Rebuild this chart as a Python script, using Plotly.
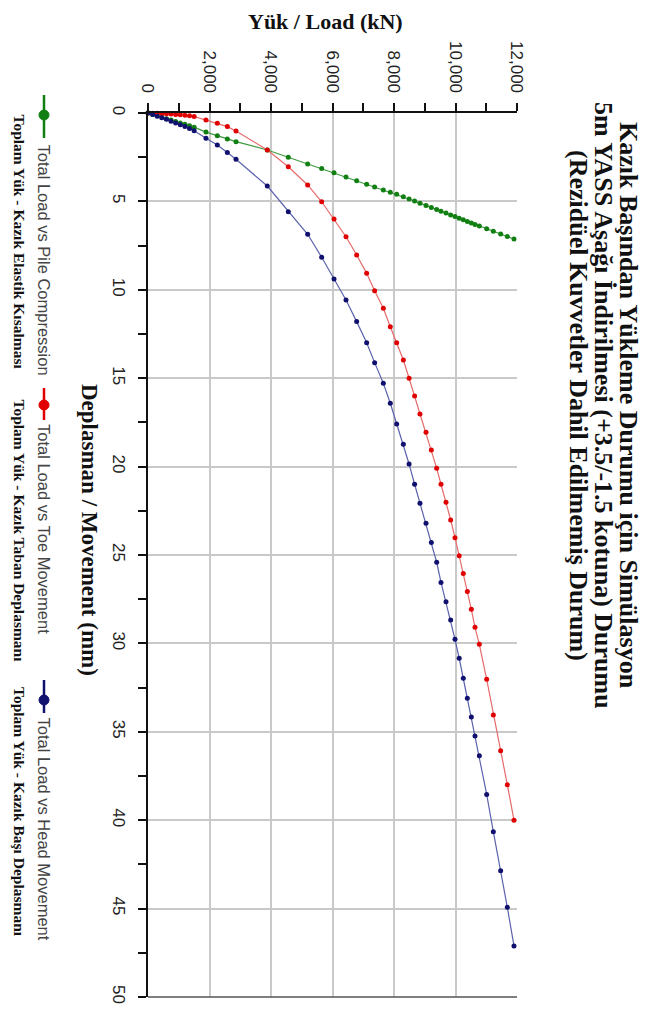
import plotly.graph_objects as go

# ---- data ----
load_kn = [0, 150, 300, 450, 600, 750, 900, 1050, 1200, 1350, 1500,
           1886, 2255, 2580, 2862,
           3880, 4563, 5193, 5648, 6049, 6439, 6786, 7111, 7370, 7653,
           7880, 8087, 8304, 8490, 8670, 8845, 9041, 9214, 9388, 9528,
           9691, 9843, 9984, 10120, 10254, 10385, 10515, 10634, 10775,
           11014, 11230, 11469, 11686, 11902]

pile_compression = [0, 0.08, 0.16, 0.24, 0.32, 0.40, 0.48, 0.56, 0.64, 0.72, 0.80,
                    1.08, 1.28, 1.47, 1.62,
                    2.09, 2.50, 2.88, 3.14, 3.38, 3.62, 3.83, 4.03, 4.19, 4.36,
                    4.48, 4.60, 4.73, 4.86, 4.98, 5.10, 5.23, 5.35, 5.46, 5.56,
                    5.66, 5.77, 5.86, 5.95, 6.04, 6.13, 6.22, 6.30, 6.39,
                    6.55, 6.69, 6.85, 6.99, 7.13]

toe_movement = [0, 0.01, 0.02, 0.03, 0.04, 0.06, 0.08, 0.10, 0.13, 0.16, 0.20,
                0.40, 0.58, 0.77, 1.02,
                2.09, 3.04, 4.07, 5.02, 6.00, 7.00, 8.03, 9.07, 10.05, 11.05,
                12.09, 13.00, 13.97, 15.00, 16.00, 17.02, 18.06, 19.06, 20.10, 21.00,
                22.02, 23.02, 24.02, 25.04, 26.04, 27.07, 28.07, 29.09, 30.05,
                32.03, 34.05, 36.07, 38.00, 40.00]

head_movement = [0, 0.09, 0.18, 0.27, 0.36, 0.46, 0.56, 0.66, 0.77, 0.88, 1.00,
                 1.43, 1.81, 2.24, 2.62,
                 4.13, 5.58, 6.86, 8.16, 9.39, 10.58, 11.80, 12.99, 14.12, 15.29,
                 16.42, 17.59, 18.74, 19.85, 21.00, 22.08, 23.21, 24.30, 25.41, 26.55,
                 27.64, 28.68, 29.77, 30.84, 31.97, 33.10, 34.16, 35.24, 36.35,
                 38.54, 40.65, 42.86, 44.93, 47.11]

load_ticks = [0, 2000, 4000, 6000, 8000, 10000, 12000]
move_ticks = [0, 5, 10, 15, 20, 25, 30, 35, 40, 45, 50]

series_names_en = ["Total Load vs Pile Compression", "Total Load vs Toe Movement",
                   "Total Load vs Head Movement"]
series_names_tr = ["Toplam Yük - Kazık Elastik Kısalması", "Toplam Yük - Kazık Taban Deplasmanı",
                   "Toplam Yük - Kazık Başı Deplasmanı"]
title_lines = ["Kazık Başından Yükleme Durumu için Simülasyon",
               "5m YASS Aşağı İndirilmesi (+3.5/-1.5 kotuna) Durumu",
               "(Rezidüel Kuvvetler Dahil Edilmemiş Durum)"]

# ---- layout geometry (pixels in the window; page body adds an 8px offset) ----
OFF = 8
W, H = 657 - 2 * OFF, 1013 - 2 * OFF
L, R, T, B = 148 - OFF, 517 - OFF, 113 - OFF, 997 - OFF

def px(x):
    return (x - OFF - L) / (R - L)

def py(y):
    return (B - (y - OFF)) / (B - T)

marker_cols = ["#127f12", "#e00000", "#10106e"]
line_cols = ["#3f9c3f", "#e66a6a", "#5b63ad"]
series = [pile_compression, toe_movement, head_movement]

fig = go.Figure()
for vals, mc, lc, nm in zip(series, marker_cols, line_cols, series_names_en):
    fig.add_trace(go.Scatter(x=load_kn, y=vals, mode="lines+markers", name=nm,
                             line=dict(color=lc, width=1.2),
                             marker=dict(color=mc, size=5), showlegend=False,
                             cliponaxis=False))

serif = "Liberation Serif"
sans = "Liberation Sans"

annotations = []
# axis titles
annotations.append(dict(text="<b>Yük / Load (kN)</b>", x=px(325), y=1 + T / (B - T), xref="paper", yref="paper",
                        showarrow=False, font=dict(family=serif, size=22, color="#111"),
                        xanchor="center", yanchor="top", borderpad=0))
annotations.append(dict(text="<b>Deplasman / Movement (mm)</b>", x=px(90), y=py(530), xref="paper", yref="paper",
                        showarrow=False, textangle=90, font=dict(family=serif, size=23, color="#111"),
                        xanchor="center", yanchor="middle"))
# title lines (rotated)
for tx, xc in zip(title_lines, [629, 604, 579]):
    annotations.append(dict(text="<b>" + tx + "</b>", x=px(xc), y=py(405), xref="paper", yref="paper",
                            showarrow=False, textangle=90, font=dict(family=serif, size=26, color="#111"),
                            xanchor="center", yanchor="middle"))

# legend (rotated)
shapes = []
leg_marker_y = [115, 405, 700]
leg_line = [(95, 138), (388, 420), (680, 713)]
leg_en_top = [142, 422, 715]
leg_tr_top = [112, 397, 685]
for i in range(3):
    y0, y1 = leg_line[i]
    shapes.append(dict(type="line", xref="paper", yref="paper", x0=px(44), x1=px(44),
                       y0=py(y0), y1=py(y1), line=dict(color=marker_cols[i], width=2.5)))
    my = leg_marker_y[i]
    shapes.append(dict(type="circle", xref="paper", yref="paper", x0=px(39), x1=px(49),
                       y0=py(my + 5), y1=py(my - 5), fillcolor=marker_cols[i],
                       line=dict(color=marker_cols[i], width=1)))
    annotations.append(dict(text=series_names_en[i], x=px(44), y=py(leg_en_top[i]), xref="paper", yref="paper",
                            showarrow=False, textangle=90, font=dict(family=sans, size=16.5, color="#444"),
                            xanchor="center", yanchor="top"))
    annotations.append(dict(text="<b>" + series_names_tr[i] + "</b>", x=px(19), y=py(leg_tr_top[i]),
                            xref="paper", yref="paper", showarrow=False, textangle=90,
                            font=dict(family=serif, size=15.5, color="#111"),
                            xanchor="center", yanchor="top"))

# bottom frame
shapes.append(dict(type="line", xref="paper", yref="paper", x0=0, x1=1, y0=0, y1=0,
                   line=dict(color="#555", width=1.5)))

fig.update_layout(
    width=W, height=H,
    margin=dict(l=L, r=W - R, t=T, b=H - B),
    paper_bgcolor="white", plot_bgcolor="white",
    annotations=annotations, shapes=shapes,
    xaxis=dict(side="top", range=[0, 12000], tickvals=load_ticks, tickformat=",", automargin=False,
               tickangle=90, ticks="outside", ticklen=8, tickwidth=1.5, tickcolor="#111",
               ticklabelstandoff=4,
               showline=True, linecolor="#111", linewidth=2,
               showgrid=True, gridcolor="#c9c9c9", gridwidth=1.5, zeroline=False,
               minor=dict(dtick=1000, ticks="outside", ticklen=8, tickwidth=1.5, tickcolor="#111", showgrid=False),
               tickfont=dict(family=sans, size=17, color="#222")),
    yaxis=dict(range=[50, 0], tickvals=move_ticks, tickangle=90, automargin=False,
               ticks="outside", ticklen=8, tickwidth=1.5, tickcolor="#111",
               ticklabelstandoff=5,
               showline=True, linecolor="#111", linewidth=2,
               showgrid=True, gridcolor="#c9c9c9", gridwidth=1.5, zeroline=False,
               minor=dict(dtick=2.5, ticks="outside", ticklen=8, tickwidth=1.5, tickcolor="#111", showgrid=False),
               tickfont=dict(family=sans, size=17, color="#222")),
)

fig.write_html("out.html")
